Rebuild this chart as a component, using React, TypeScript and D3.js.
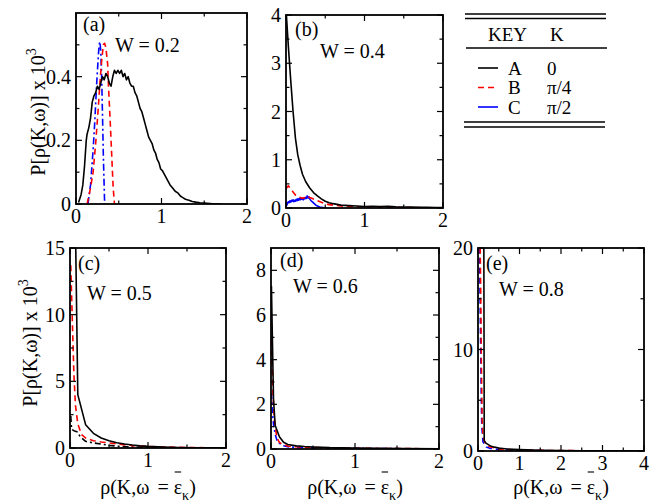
import { useEffect, useRef } from 'react';
import * as d3 from 'd3';

type Pt = [number, number];

// ---- data (x = rho, y = P x 10^3) ----
const aK0: Pt[] = [[0.03,0.005],[0.06,0.03],[0.08,0.06],[0.1,0.12],[0.12,0.2],[0.13,0.22],[0.15,0.24],[0.17,0.27],[0.19,0.32],[0.21,0.34],[0.23,0.35],[0.25,0.37],[0.27,0.36],[0.29,0.38],[0.31,0.4],[0.33,0.39],[0.35,0.41],[0.37,0.4],[0.39,0.38],[0.41,0.37],[0.43,0.4],[0.45,0.42],[0.47,0.41],[0.49,0.42],[0.51,0.41],[0.53,0.42],[0.55,0.4],[0.57,0.41],[0.59,0.39],[0.61,0.4],[0.63,0.38],[0.65,0.37],[0.67,0.37],[0.69,0.35],[0.71,0.34],[0.73,0.32],[0.75,0.3],[0.77,0.29],[0.79,0.27],[0.81,0.25],[0.83,0.23],[0.85,0.21],[0.87,0.2],[0.89,0.19],[0.91,0.17],[0.93,0.16],[0.95,0.14],[0.97,0.13],[0.99,0.11],[1.01,0.105],[1.04,0.09],[1.07,0.075],[1.1,0.06],[1.13,0.05],[1.16,0.04],[1.19,0.035],[1.22,0.025],[1.25,0.02],[1.28,0.015],[1.32,0.012],[1.36,0.008],[1.4,0.006],[1.45,0.004],[1.5,0.003],[1.6,0.001],[1.7,0]];
const aKpi4: Pt[] = [[0.13,0],[0.17,0.05],[0.2,0.1],[0.23,0.19],[0.26,0.3],[0.28,0.38],[0.3,0.45],[0.32,0.5],[0.335,0.505],[0.35,0.49],[0.37,0.44],[0.38,0.37],[0.4,0.26],[0.42,0.14],[0.435,0.05],[0.45,0]];
const aKpi2: Pt[] = [[0.14,0],[0.17,0.06],[0.2,0.17],[0.22,0.26],[0.24,0.37],[0.26,0.46],[0.27,0.5],[0.28,0.51],[0.29,0.48],[0.3,0.4],[0.31,0.28],[0.32,0.15],[0.33,0.05],[0.335,0]];

const bK0: Pt[] = [[0.005,4.0],[0.03,3.35],[0.06,2.65],[0.09,2.0],[0.12,1.45],[0.15,1.1],[0.18,0.88],[0.21,0.7],[0.25,0.55],[0.3,0.42],[0.35,0.32],[0.4,0.25],[0.45,0.19],[0.5,0.14],[0.55,0.11],[0.6,0.09],[0.7,0.06],[0.8,0.05],[0.9,0.04],[1.0,0.03],[1.1,0.035],[1.2,0.03],[1.3,0.035],[1.4,0.025],[1.5,0.02],[1.6,0.02],[1.7,0.015],[1.8,0.012],[1.9,0.01],[2,0.01]];
const bKpi4: Pt[] = [[0,0.4],[0.03,0.46],[0.06,0.4],[0.09,0.33],[0.12,0.27],[0.15,0.24],[0.18,0.22],[0.21,0.2],[0.24,0.22],[0.27,0.25],[0.3,0.22],[0.33,0.2],[0.36,0.18],[0.4,0.15],[0.45,0.12],[0.5,0.09],[0.55,0.07],[0.6,0.06],[0.7,0.04],[0.8,0.03],[0.9,0.025],[1.0,0.02],[1.1,0.02],[1.2,0.015],[1.4,0.01],[1.6,0.008],[1.8,0.005],[2,0.003]];
const bKpi2: Pt[] = [[0.01,0.05],[0.02,0.1],[0.03,0.13],[0.04,0.11],[0.05,0.15],[0.06,0.12],[0.07,0.16],[0.08,0.14],[0.09,0.17],[0.1,0.13],[0.11,0.16],[0.12,0.14],[0.13,0.18],[0.14,0.15],[0.15,0.19],[0.16,0.16],[0.17,0.2],[0.18,0.17],[0.19,0.21],[0.2,0.18],[0.21,0.2],[0.22,0.17],[0.23,0.21],[0.24,0.19],[0.25,0.22],[0.26,0.2],[0.27,0.25],[0.28,0.21],[0.29,0.23],[0.3,0.19],[0.31,0.17],[0.32,0.15],[0.34,0.12],[0.36,0.09],[0.38,0.06],[0.4,0.04],[0.43,0.02],[0.47,0.01],[0.5,0]];

const cK0: Pt[] = [[0.05,25],[0.1,4],[0.2,1.75],[0.3,1.1],[0.4,0.75],[0.5,0.55],[0.6,0.4],[0.7,0.3],[0.8,0.22],[0.9,0.16],[1.0,0.12],[1.2,0.07],[1.4,0.04],[1.6,0.02],[1.8,0.01],[2,0.005]];
const cKpi4: Pt[] = [[0.01,13.7],[0.03,9.5],[0.05,5.5],[0.07,3.2],[0.1,1.8],[0.15,1.0],[0.2,0.75],[0.3,0.55],[0.4,0.45],[0.5,0.38],[0.6,0.3],[0.8,0.18],[1.0,0.11],[1.2,0.07],[1.4,0.05],[1.6,0.03],[1.8,0.02],[2,0.01]];
const cKpi2: Pt[] = [[0.01,2.4],[0.02,1.4],[0.05,1.3],[0.1,1.2],[0.13,0.85],[0.2,0.5],[0.3,0.38],[0.4,0.3],[0.5,0.2],[0.6,0.14],[0.8,0.08],[1.0,0.04],[1.2,0.02],[1.5,0.01],[2,0]];

const dK0: Pt[] = [[0.005,7.3],[0.03,2.2],[0.05,1.05],[0.1,0.55],[0.15,0.3],[0.2,0.2],[0.3,0.14],[0.4,0.11],[0.5,0.09],[0.7,0.06],[1.0,0.04],[1.3,0.03],[1.6,0.02],[2,0.01]];
const dKpi4: Pt[] = [[0.005,4.9],[0.02,2.8],[0.04,1.3],[0.07,0.5],[0.1,0.3],[0.15,0.18],[0.2,0.13],[0.3,0.1],[0.5,0.07],[0.7,0.05],[1.0,0.03],[1.5,0.02],[2,0.01]];
const dKpi2: Pt[] = [[0.005,2.5],[0.02,1.5],[0.03,1.1],[0.05,0.65],[0.07,0.4],[0.1,0.25],[0.15,0.15],[0.2,0.1],[0.3,0.07],[0.5,0.05],[1.0,0.03],[1.5,0.015],[2,0.01]];

const eK0: Pt[] = [[0.14,22],[0.15,1.0],[0.2,0.75],[0.3,0.5],[0.4,0.38],[0.5,0.3],[0.7,0.2],[1.0,0.14],[1.5,0.08],[2,0.05],[2.5,0.03],[3,0.02],[3.5,0.01],[4,0.005]];
const eKpi4: Pt[] = [[0.05,21],[0.07,14],[0.08,9],[0.1,3],[0.12,1.5],[0.16,0.9],[0.2,0.6],[0.3,0.4],[0.5,0.2],[0.8,0.12],[1.3,0.07],[2,0.04],[3,0.02],[4,0.01]];
const eKpi2: Pt[] = [[0.035,21],[0.05,15],[0.065,10],[0.08,5],[0.09,2.5],[0.12,0.9],[0.2,0.4],[0.3,0.25],[0.5,0.15],[1.0,0.07],[1.7,0.03],[2.5,0.02],[4,0.01]];

const panelTags = ['(a)', '(b)', '(c)', '(d)', '(e)'];
const disorder = ['W = 0.2', 'W = 0.4', 'W = 0.5', 'W = 0.6', 'W = 0.8'];
const yMax = [0.6, 4, 15, 9, 20];
const xMax = [2, 2, 2, 2, 4];
const yMajorTicks = [[0, 0.2, 0.4], [0, 1, 2, 3, 4], [0, 5, 10, 15], [0, 2, 4, 6, 8], [0, 10, 20]];
const yMinorTicks = [[0.1, 0.3, 0.5], [0.5, 1.5, 2.5, 3.5], [2.5, 7.5, 12.5], [1, 3, 5, 7], [5, 15]];
const xMajorTicks = [[0, 1, 2], [0, 1, 2], [0, 1, 2], [0, 1, 2], [0, 1, 2, 3, 4]];
const xMinorTicks = [[0.5, 1.5], [0.5, 1.5], [0.5, 1.5], [0.5, 1.5], [0.5, 1.5, 2.5, 3.5]];

const keyNames = ['A', 'B', 'C'];
const keyK = ['0', 'π/4', 'π/2'];

const RED = '#ff0000';
const BLUE = '#0000ff';
const FONT = "'Liberation Serif', 'DejaVu Serif', serif";

function App() {
  const svgRef = useRef<SVGSVGElement>(null);

  useEffect(() => {
    const svg = d3.select(svgRef.current);
    svg.selectAll('*').remove();

    const panels = [
      { box: [76, 13, 247, 204], tag: [7, 18], w: [39, 39],
        series: [
          { d: aK0, c: '#000', dash: null },
          { d: aKpi4, c: RED, dash: '6,4' },
          { d: aKpi2, c: BLUE, dash: '7,3,2,3' },
        ] },
      { box: [286, 15, 443, 208], tag: [9, 21], w: [34, 43],
        series: [
          { d: bK0, c: '#000', dash: null },
          { d: bKpi4, c: RED, dash: '6,4' },
          { d: bKpi2, c: BLUE, dash: null },
        ] },
      { box: [70, 248, 226, 448], tag: [8, 22], w: [17, 52],
        series: [
          { d: cK0, c: '#000', dash: null },
          { d: cKpi4, c: RED, dash: '6,4' },
          { d: cKpi2, c: '#000', dash: '6,3,2,3' },
        ] },
      { box: [271, 248, 439, 449], tag: [9, 19], w: [22, 45],
        series: [
          { d: dK0, c: '#000', dash: null },
          { d: dKpi4, c: RED, dash: '6,4' },
          { d: dKpi2, c: BLUE, dash: '6,3,2,3' },
        ] },
      { box: [478, 248, 644, 451], tag: [8, 22], w: [21, 48],
        series: [
          { d: eK0, c: '#000', dash: null },
          { d: eKpi4, c: RED, dash: '6,4' },
          { d: eKpi2, c: BLUE, dash: '6,4' },
        ] },
    ];

    panels.forEach((p, i) => {
      const [x0, y0, x1, y1] = p.box;
      const x = d3.scaleLinear().domain([0, xMax[i]]).range([x0, x1]);
      const y = d3.scaleLinear().domain([0, yMax[i]]).range([y1, y0]);
      const g = svg.append('g');

      const clipId = `clip-${i}`;
      g.append('clipPath').attr('id', clipId)
        .append('rect').attr('x', x0).attr('y', y0).attr('width', x1 - x0).attr('height', y1 - y0);

      const line = d3.line<Pt>().x((d) => x(d[0])).y((d) => y(d[1]));
      const curves = g.append('g').attr('clip-path', `url(#${clipId})`);
      p.series.slice().reverse().forEach((s) => {
        curves.append('path')
          .datum(s.d)
          .attr('d', line)
          .attr('fill', 'none')
          .attr('stroke', s.c)
          .attr('stroke-width', 1.6)
          .attr('stroke-dasharray', s.dash)
          .attr('stroke-linejoin', 'round');
      });

      // inward ticks on all four sides
      const tickG = g.append('g').attr('stroke', '#000').attr('stroke-width', 1.2);
      const drawX = (vals: number[], len: number) => vals.forEach((v) => {
        tickG.append('line').attr('x1', x(v)).attr('x2', x(v)).attr('y1', y1).attr('y2', y1 - len);
        tickG.append('line').attr('x1', x(v)).attr('x2', x(v)).attr('y1', y0).attr('y2', y0 + len);
      });
      const drawY = (vals: number[], len: number) => vals.forEach((v) => {
        tickG.append('line').attr('y1', y(v)).attr('y2', y(v)).attr('x1', x0).attr('x2', x0 + len);
        tickG.append('line').attr('y1', y(v)).attr('y2', y(v)).attr('x1', x1).attr('x2', x1 - len);
      });
      drawX(xMajorTicks[i], 6);
      drawX(xMinorTicks[i], 3.5);
      drawY(yMajorTicks[i], 6);
      drawY(yMinorTicks[i], 3.5);

      g.append('rect')
        .attr('x', x0).attr('y', y0).attr('width', x1 - x0).attr('height', y1 - y0)
        .attr('fill', 'none').attr('stroke', '#000').attr('stroke-width', 1.8);

      const labels = g.append('g').style('font-family', FONT).style('font-size', '20px').attr('fill', '#000');
      xMajorTicks[i].forEach((v) => {
        labels.append('text').attr('x', x(v)).attr('y', y1 + 19).attr('text-anchor', 'middle').text(String(v));
      });
      yMajorTicks[i].forEach((v) => {
        labels.append('text').attr('x', x0 - 5).attr('y', y(v) + 7).attr('text-anchor', 'end').text(String(v));
      });

      labels.append('text').attr('x', x0 + p.tag[0]).attr('y', y0 + p.tag[1]).text(panelTags[i]);
      labels.append('text').attr('x', x0 + p.w[0]).attr('y', y0 + p.w[1]).text(disorder[i]);

      if (i >= 2) {
        const t = labels.append('text')
          .attr('x', (x0 + x1) / 2).attr('y', 494).attr('text-anchor', 'middle');
        t.append('tspan').text('ρ(K,ω');
        t.append('tspan').attr('dx', 8).text('= ε');
        t.append('tspan').attr('dy', 6).style('font-size', '14px').text('κ');
        t.append('tspan').attr('dy', -6).text(')');
        const node = t.node() as SVGTextElement;
        const ext = node.getExtentOfChar(7);
        labels.append('line')
          .attr('x1', ext.x + 1).attr('x2', ext.x + ext.width - 1)
          .attr('y1', 472).attr('y2', 472)
          .attr('stroke', '#000').attr('stroke-width', 1.1);
      }
    });

    // y-axis titles
    const yTitle = (cx: number, cy: number) => {
      const t = svg.append('text')
        .attr('transform', `translate(${cx},${cy}) rotate(-90)`)
        .attr('text-anchor', 'middle')
        .style('font-family', FONT).style('font-size', '20px');
      t.append('tspan').text('P[ρ(K,ω)] x 10');
      t.append('tspan').attr('dy', -9).style('font-size', '14px').text('3');
    };
    yTitle(45, 112);
    yTitle(37, 343);

    // key table
    const key = svg.append('g').style('font-family', FONT).style('font-size', '19px');
    const rule = (yy: number, xa: number, xb: number) =>
      key.append('line').attr('x1', xa).attr('x2', xb).attr('y1', yy).attr('y2', yy)
        .attr('stroke', '#000').attr('stroke-width', 1.6);
    rule(14, 465, 606);
    rule(18.5, 465, 606);
    rule(48, 466, 607);
    rule(122, 464, 605);
    rule(127, 464, 605);
    key.append('text').attr('x', 488).attr('y', 41).text('KEY');
    key.append('text').attr('x', 550).attr('y', 41).text('K');
    const keyStyles = [
      { c: '#000', dash: null },
      { c: RED, dash: '6,4' },
      { c: BLUE, dash: null },
    ];
    keyNames.forEach((n, j) => {
      const yy = 68 + j * 19.5;
      key.append('line').attr('x1', 478).attr('x2', 498).attr('y1', yy).attr('y2', yy)
        .attr('stroke', keyStyles[j].c).attr('stroke-width', 1.6)
        .attr('stroke-dasharray', keyStyles[j].dash);
      key.append('text').attr('x', 508).attr('y', yy + 6.5).text(n);
      key.append('text').attr('x', 547).attr('y', yy + 6.5).text(keyK[j]);
    });
  }, []);

  return (
    <svg
      ref={svgRef}
      width={657}
      height={502}
      style={{ position: 'absolute', left: 0, top: 0, background: '#fff' }}
    />
  );
}

export default App;
